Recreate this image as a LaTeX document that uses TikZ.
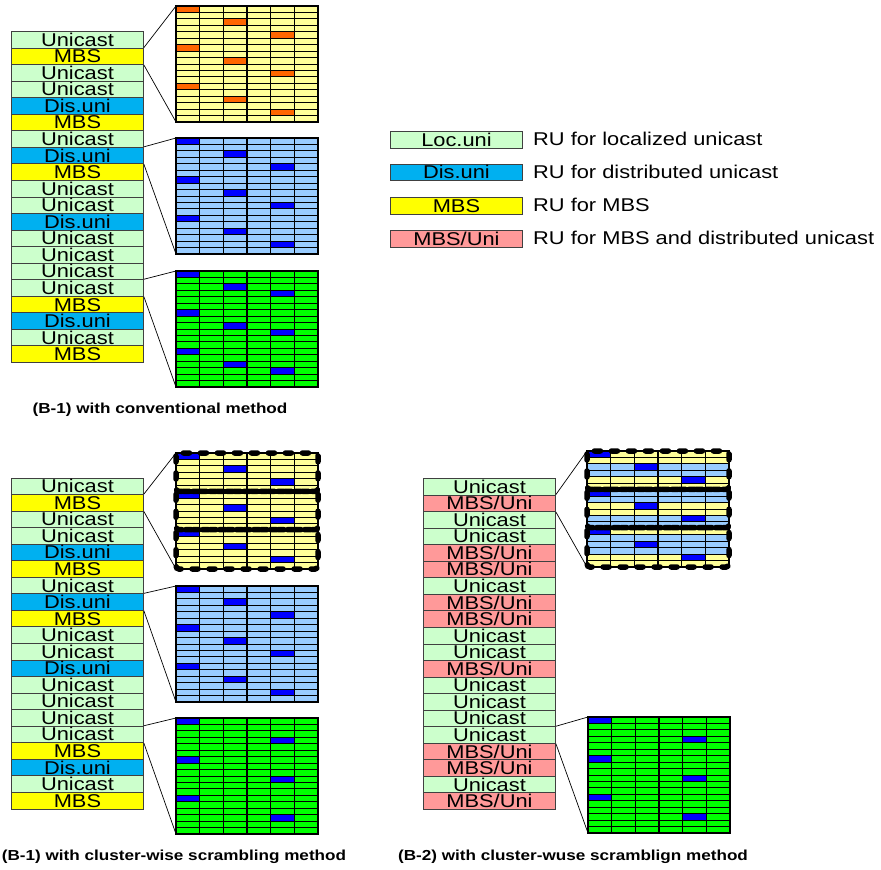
\documentclass[tikz,border=0pt]{standalone}
\usepackage{fontspec}
\setmainfont[FakeStretch=1.18]{Liberation Sans}
\definecolor{locuni}{HTML}{CCFFCC}
\definecolor{disuni}{HTML}{00B0F0}
\definecolor{mbsc}{HTML}{FFFF00}
\definecolor{mbsuni}{HTML}{FF9999}
\definecolor{lyel}{HTML}{FFFF99}
\definecolor{lblue}{HTML}{99CCFF}
\definecolor{orng}{HTML}{FF6600}
\definecolor{dblue}{HTML}{0000FF}
\definecolor{grn}{HTML}{00FF00}
\newcommand\rufont{\fontsize{18.5}{18.5}\selectfont}
\newcommand\capfont{\fontsize{14.5}{14.5}\selectfont\bfseries}
\tikzset{
  ru/.style={draw=black!75, line width=0.9pt, minimum width=132pt, minimum height=16.55pt,
    inner sep=0pt, text height=14.5pt, text depth=1.5pt, anchor=north west, font=\rufont},
  lu/.style={fill=locuni}, du/.style={fill=disuni}, mb/.style={fill=mbsc}, mu/.style={fill=mbsuni},
  desc/.style={anchor=base west, inner sep=0pt, font=\rufont},
  capt/.style={inner sep=0pt, font=\capfont},
  gridframe/.style={draw=none, minimum width=142pt, minimum height=116pt, inner sep=0pt, outer sep=0pt, anchor=north west},
  hline/.style={draw=black, line width=0.8pt},
  vline/.style={draw=black, line width=1.2pt},
  conn/.style={draw=black, line width=0.7pt},
  dashbox/.style={draw=black, line width=5.5pt, line cap=round, dash pattern=on 6pt off 11pt, rounded corners=3pt},
  solidband/.style={draw=black, line width=5pt, line cap=round}
}
% column of RUs: prefix, x, y, list
\newcommand\rucol[4]{%
  \foreach \s/\t [count=\i] in {#4} {
    \node[ru,\s] (#1\i) at (#2,{#3+(\i-1)*16.55}) {\t};
  }}
% grid background: name x y colour
\newcommand\gridbg[4]{%
  \node[gridframe] (#1) at (#2,#3) {};
  \fill[#4] (#2,#3) rectangle ++(142,116);}
% full rows: x y colour rowlist
\newcommand\gridrows[4]{%
  \foreach \r in {#4} {\fill[#3] (#1,{#2+\r*6.4444}) rectangle ++(142,6.4444);}}
% cells: x y colour list r/c
\newcommand\gridmark[4]{%
  \foreach \r/\c in {#4} {\fill[#3] ({#1+\c*23.6667},{#2+\r*6.4444}) rectangle ++(23.6667,6.4444);}}
\newcommand\gridlines[2]{%
  \foreach \r in {1,...,17} {\draw[hline] (#1,{#2+\r*6.4444}) -- ++(142,0);}
  \foreach \c in {1,...,5} {\draw[vline] ({#1+\c*23.6667},#2) -- ++(0,116);}
  \draw[vline] (#1,#2) rectangle ++(142,116);}
\begin{document}
\begin{tikzpicture}[x=1pt,y=-1pt]
\useasboundingbox (0,0) rectangle (881,870);
\fill[white] (0,0) rectangle (881,870);

% ---------------- top (B-1 conventional) ----------------
\rucol{T}{11}{31}{lu/Unicast, mb/MBS, lu/Unicast, lu/Unicast, du/Dis.uni, mb/MBS, lu/Unicast, du/Dis.uni, mb/MBS, lu/Unicast, lu/Unicast, du/Dis.uni, lu/Unicast, lu/Unicast, lu/Unicast, lu/Unicast, mb/MBS, du/Dis.uni, lu/Unicast, mb/MBS}

\gridbg{TG1}{176}{6}{lyel}
\gridmark{176}{6}{orng}{0/0,2/2,4/4,6/0,8/2,10/4,12/0,14/2,16/4}
\gridlines{176}{6}

\gridbg{TG2}{176}{138}{lblue}
\gridmark{176}{138}{dblue}{0/0,2/2,4/4,6/0,8/2,10/4,12/0,14/2,16/4}
\gridlines{176}{138}

\gridbg{TG3}{176}{271}{grn}
\gridmark{176}{271}{dblue}{0/0,2/2,3/4,6/0,8/2,9/4,12/0,14/2,15/4}
\gridlines{176}{271}

\draw[conn] (T2.north east) -- (TG1.north west);
\draw[conn] (T2.south east) -- (TG1.south west);
\draw[conn] (T8.north east) -- (TG2.north west);
\draw[conn] (T8.south east) -- (TG2.south west);
\draw[conn] (T16.north east) -- (TG3.north west);
\draw[conn] (T16.south east) -- (TG3.south west);

\node[capt] (cap1) at (160,410) {(B-1) with conventional method};

% ---------------- legend ----------------
\node[ru,lu] (L1) at (390,131) {Loc.uni};
\node[ru,du] (L2) at (390,163.5) {Dis.uni};
\node[ru,mb] (L3) at (390,197) {MBS};
\node[ru,mu] (L4) at (390,230) {MBS/Uni};
\node[desc] (D1) at (533,145.8) {RU for localized unicast};
\node[desc] (D2) at (533,178.3) {RU for distributed unicast};
\node[desc] (D3) at (533,211.8) {RU for MBS};
\node[desc] (D4) at (533,244.8) {RU for MBS and distributed unicast};

% ---------------- bottom left (B-1 cluster-wise) ----------------
\rucol{B}{11}{477.5}{lu/Unicast, mb/MBS, lu/Unicast, lu/Unicast, du/Dis.uni, mb/MBS, lu/Unicast, du/Dis.uni, mb/MBS, lu/Unicast, lu/Unicast, du/Dis.uni, lu/Unicast, lu/Unicast, lu/Unicast, lu/Unicast, mb/MBS, du/Dis.uni, lu/Unicast, mb/MBS}

\gridbg{BG1}{176}{453}{lyel}
\gridmark{176}{453}{dblue}{0/0,2/2,4/4,6/0,8/2,10/4,12/0,14/2,16/4}
\gridlines{176}{453}
\draw[dashbox] (176,453) rectangle (318,491.33);
\draw[dashbox] (176,491.33) rectangle (318,529.67);
\draw[dashbox] (176,529.67) rectangle (318,569);
\draw[solidband] (177,491.33) -- (317,491.33);

\gridbg{BG2}{176}{586}{lblue}
\gridmark{176}{586}{dblue}{0/0,2/2,4/4,6/0,8/2,10/4,12/0,14/2,16/4}
\gridlines{176}{586}

\gridbg{BG3}{176}{718}{grn}
\gridmark{176}{718}{dblue}{0/0,3/4,6/0,9/4,12/0,15/4}
\gridlines{176}{718}

\draw[conn] (B2.north east) -- (BG1.north west);
\draw[conn] (B2.south east) -- (BG1.south west);
\draw[conn] (B8.north east) -- (BG2.north west);
\draw[conn] (B8.south east) -- (BG2.south west);
\draw[conn] (B16.north east) -- (BG3.north west);
\draw[conn] (B16.south east) -- (BG3.south west);

\node[capt] (cap2) at (174,857) {(B-1) with cluster-wise scrambling method};

% ---------------- bottom right (B-2) ----------------
\rucol{C}{423}{478}{lu/Unicast, mu/{MBS/Uni}, lu/Unicast, lu/Unicast, mu/{MBS/Uni}, mu/{MBS/Uni}, lu/Unicast, mu/{MBS/Uni}, mu/{MBS/Uni}, lu/Unicast, lu/Unicast, mu/{MBS/Uni}, lu/Unicast, lu/Unicast, lu/Unicast, lu/Unicast, mu/{MBS/Uni}, mu/{MBS/Uni}, lu/Unicast, mu/{MBS/Uni}}

\gridbg{CG1}{587}{451}{lyel}
\gridrows{587}{451}{lblue}{2,3,6,7,10,11,13,14,15}
\gridmark{587}{451}{dblue}{0/0,2/2,4/4,6/0,8/2,10/4,12/0,14/2,16/4}
\gridlines{587}{451}
\draw[dashbox] (587,451) rectangle (729,489.33);
\draw[dashbox] (587,489.33) rectangle (729,527.67);
\draw[dashbox] (587,527.67) rectangle (729,567);
\draw[solidband] (588,489.33) -- (728,489.33);

\gridbg{CG2}{588}{717}{grn}
\gridmark{588}{717}{dblue}{0/0,3/4,6/0,9/4,12/0,15/4}
\gridlines{588}{717}

\draw[conn] (C2.north east) -- (CG1.north west);
\draw[conn] (C2.south east) -- (CG1.south west);
\draw[conn] (C16.north east) -- (CG2.north west);
\draw[conn] (C16.south east) -- (CG2.south west);

\node[capt] (cap3) at (573,857) {(B-2) with cluster-wuse scramblign method};
\end{tikzpicture}
\end{document}
